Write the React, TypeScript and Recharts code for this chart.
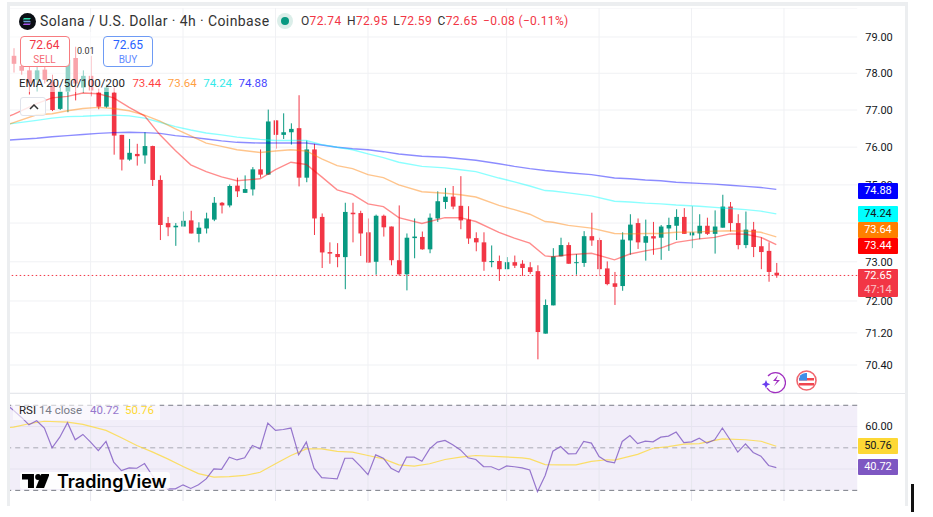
import React from 'react';
import {
  ComposedChart,
  Bar,
  Line,
  XAxis,
  YAxis,
  CartesianGrid,
  ReferenceLine,
  ReferenceArea,
} from 'recharts';

const FONT = 'Roboto, "Noto Sans", sans-serif';
const GREEN = '#089981';
const RED = '#f23645';
const GRID = '#f0f1f4';

const opens = [
  78.48, 78.2, 78.08, 77.82, 78.1, 77.77, 77.03, 77.5, 78.42, 77.61,
  77.93, 77.47, 77.09, 77.47, 76.33, 75.67, 75.82, 75.78, 76.03, 75.13,
  74.0, 73.89, 73.91, 74.07, 73.72, 73.86, 74.09, 74.53, 74.46, 74.98,
  74.79, 74.88, 75.41, 75.27, 76.72, 76.33, 76.4, 76.51, 75.19, 75.94,
  74.16, 73.25, 73.2, 73.12, 74.27, 74.26, 73.76, 73.0, 74.19, 73.91,
  73.04, 72.68, 73.61, 73.64, 73.32, 74.12, 74.55, 74.69, 74.45, 74.09,
  73.61, 73.5, 72.99, 73.02, 72.81, 72.99, 72.95, 72.86, 72.76, 71.18,
  71.89, 73.14, 73.43, 72.97, 72.97, 73.66, 73.56, 72.83, 72.45, 72.38,
  73.55, 74.0, 73.49, 73.66, 73.62, 73.86, 73.93, 74.16, 73.68, 73.73,
  73.93, 73.72, 73.88, 74.43, 74.0, 73.43, 73.83, 73.4, 73.28, 72.72,
];
const highs = [
  78.69, 78.37, 78.2, 78.2, 78.2, 77.96, 77.61, 78.5, 78.73, 78.08,
  78.48, 77.58, 77.69, 77.61, 76.33, 76.22, 76.09, 76.4, 76.04, 75.25,
  74.16, 74.0, 74.3, 74.32, 74.02, 74.27, 74.68, 74.55, 75.01, 75.19,
  75.25, 75.47, 75.94, 77.01, 76.72, 76.91, 76.64, 77.4, 76.18, 76.09,
  74.25, 73.5, 73.48, 74.53, 74.53, 74.32, 74.12, 74.22, 74.22, 73.91,
  74.46, 73.73, 74.12, 73.78, 74.25, 74.83, 74.92, 74.97, 75.23, 74.44,
  73.76, 73.76, 73.42, 73.16, 73.12, 73.16, 73.04, 72.99, 72.91, 72.04,
  73.35, 73.62, 73.5, 73.2, 73.79, 74.27, 73.62, 73.01, 72.74, 73.76,
  74.23, 74.12, 74.09, 74.03, 73.95, 74.14, 74.36, 74.39, 74.44, 74.23,
  74.14, 74.33, 74.74, 74.55, 74.23, 74.3, 74.03, 73.63, 73.5, 72.97,
];
const lows = [
  78.02, 77.96, 77.42, 77.5, 77.72, 76.97, 77.0, 76.94, 77.26, 77.47,
  77.37, 77.02, 77.06, 75.8, 75.38, 75.64, 75.51, 75.56, 74.97, 73.56,
  73.66, 73.41, 73.91, 73.73, 73.5, 73.73, 74.05, 74.25, 74.41, 74.68,
  74.79, 74.72, 75.19, 75.27, 75.96, 76.22, 76.07, 74.96, 75.07, 73.69,
  72.84, 72.95, 72.86, 72.3, 73.5, 73.15, 72.97, 72.67, 73.65, 72.91,
  72.64, 72.27, 73.09, 73.31, 73.22, 74.03, 74.37, 74.36, 73.84, 73.46,
  73.27, 72.77, 72.86, 72.51, 72.81, 72.84, 72.64, 72.69, 70.54, 71.18,
  71.89, 73.14, 72.95, 72.67, 72.87, 73.41, 72.64, 72.4, 71.9, 72.26,
  73.18, 73.33, 73.03, 73.18, 73.05, 73.28, 73.56, 73.72, 73.35, 73.58,
  73.69, 73.21, 73.88, 73.78, 73.32, 73.35, 73.12, 72.81, 72.49, 72.59,
];
const closes = [
  78.26, 78.07, 77.73, 78.08, 77.82, 77.0, 77.5, 78.37, 77.72, 77.93,
  77.53, 77.09, 77.61, 76.31, 75.67, 75.85, 75.76, 76.03, 75.13, 73.95,
  73.89, 73.93, 74.06, 73.73, 73.88, 74.12, 74.53, 74.46, 74.97, 74.83,
  74.89, 75.41, 75.27, 76.69, 76.33, 76.4, 76.49, 75.19, 75.94, 74.12,
  73.24, 73.21, 73.12, 74.29, 74.23, 73.73, 72.98, 74.19, 73.89, 73.04,
  72.68, 73.62, 73.65, 73.32, 74.14, 74.57, 74.69, 74.43, 74.07, 73.6,
  73.5, 73.0, 73.02, 72.81, 72.99, 72.9, 72.84, 72.74, 71.22, 71.9,
  73.14, 73.43, 72.95, 72.99, 73.66, 73.55, 72.81, 72.43, 72.36, 73.57,
  73.96, 73.5, 73.66, 73.6, 73.91, 73.95, 74.16, 73.72, 73.76, 73.93,
  73.72, 73.91, 74.43, 74.0, 73.43, 73.83, 73.38, 73.25, 72.74, 72.65,
];

const emaCandles = [
  -1, 0, 3, 5, 7, 9, 11, 13, 15, 17, 19, 21, 23, 25, 27, 29, 32, 34, 36, 38, 40, 42, 44, 46, 48,
  50, 53, 56, 58, 60, 63, 65, 67, 69, 70, 72, 75, 78, 80, 82, 84, 86, 89, 91, 93, 95, 97, 99,
];
const ema20 = [
  76.8, 76.88, 77.17, 77.33, 77.37, 77.46, 77.44, 77.33, 77.07, 76.84, 76.33, 75.91, 75.53, 75.35, 75.21, 75.11, 75.16,
  75.4, 75.6, 75.54, 75.21, 74.87, 74.75, 74.5, 74.43, 74.14, 73.99, 74.14, 74.14, 74.04, 73.76, 73.61, 73.48,
  73.15, 73.13, 73.18, 73.22, 73.05, 73.2, 73.28, 73.35, 73.5, 73.59, 73.63, 73.72, 73.71, 73.63, 73.44,
];
const ema50 = [
  76.59, 76.66, 76.87, 76.9, 76.98, 77.04, 77.07, 77.04, 76.98, 76.86, 76.7, 76.49, 76.3, 76.11, 76.02, 75.93, 75.86,
  75.9, 75.93, 75.9, 75.69, 75.51, 75.43, 75.27, 75.19, 75.0, 74.82, 74.78, 74.74, 74.68, 74.46, 74.35, 74.23,
  74.04, 74.02, 73.94, 73.87, 73.73, 73.72, 73.73, 73.73, 73.76, 73.77, 73.79, 73.8, 73.79, 73.76, 73.64,
];
const ema100 = [
  76.61, 76.64, 76.72, 76.78, 76.82, 76.83, 76.85, 76.86, 76.84, 76.78, 76.67, 76.55, 76.46, 76.38, 76.33, 76.27, 76.21,
  76.18, 76.18, 76.18, 76.07, 76.0, 75.93, 75.82, 75.72, 75.6, 75.49, 75.45, 75.4, 75.35, 75.18, 75.08, 74.97,
  74.85, 74.84, 74.79, 74.71, 74.57, 74.55, 74.52, 74.5, 74.47, 74.44, 74.41, 74.38, 74.35, 74.31, 74.24,
];
const ema200 = [
  76.18, 76.2, 76.24, 76.28, 76.31, 76.34, 76.37, 76.39, 76.4, 76.39, 76.37, 76.31, 76.27, 76.22, 76.17, 76.13, 76.11,
  76.11, 76.11, 76.11, 76.06, 76.0, 75.96, 75.93, 75.88, 75.82, 75.76, 75.73, 75.69, 75.65, 75.56, 75.49, 75.43,
  75.38, 75.36, 75.32, 75.27, 75.18, 75.16, 75.13, 75.11, 75.07, 75.04, 75.02, 74.99, 74.96, 74.93, 74.88,
];

const rsiBefore = 70.7;
const rsiValues = [
  67.6, 64.4, 60.8, 62.7, 59.3, 50.0, 55.0, 61.8, 53.8, 56.3,
  52.7, 48.7, 53.0, 43.3, 39.3, 40.6, 40.4, 42.6, 37.0, 33.0,
  30.7, 30.7, 32.6, 30.9, 32.6, 35.4, 40.1, 39.9, 45.6, 44.3,
  45.3, 51.1, 49.5, 61.6, 58.2, 58.6, 59.3, 46.7, 52.7, 40.4,
  36.0, 35.7, 35.4, 45.1, 45.1, 41.4, 37.4, 46.7, 45.1, 40.4,
  38.5, 45.6, 45.6, 43.7, 49.5, 52.7, 53.5, 51.4, 49.0, 45.3,
  44.5, 41.2, 41.1, 39.6, 41.5, 41.1, 40.6, 39.6, 29.4, 37.0,
  48.4, 50.6, 47.2, 47.3, 53.0, 52.2, 45.9, 43.6, 42.9, 53.0,
  55.8, 52.0, 53.1, 52.8, 55.0, 55.5, 57.4, 52.5, 52.8, 54.5,
  52.2, 53.8, 59.3, 53.8, 48.0, 51.9, 47.8, 46.1, 41.7, 40.72,
];
const rsiMaCandles = [
  -1, 0, 2, 4, 7, 9, 12, 14, 16, 18, 20, 22, 24, 26, 28, 30, 32, 34, 36, 38, 40, 42, 44, 46, 48, 50, 52, 54, 56, 58,
  60, 63, 66, 67, 69, 71, 73, 75, 77, 78, 81, 83, 85, 87, 89, 91, 92, 95, 97, 99,
];
const rsiMaValues = [
  59.4, 59.7, 61.3, 62.5, 62.1, 61.0, 58.2, 54.7, 51.1, 48.1, 44.8, 41.2, 37.9, 36.2, 36.5, 37.0, 38.5, 42.5, 46.4, 49.5,
  49.5, 48.3, 48.0, 46.4, 44.8, 42.0, 41.4, 42.5, 44.5, 45.6, 46.4, 45.9, 45.3, 44.8, 42.1, 42.0, 42.0, 43.6, 44.4,
  44.2, 46.9, 49.8, 50.6, 51.7, 52.0, 53.5, 54.2, 53.8, 53.1, 50.76,
];

const priceTicks = [79, 78, 77, 76, 75, 74, 73, 72, 71.2, 70.4];
const rsiTicks = [60];
const timeGridCandles = [10, 22, 34, 46, 64, 76, 88, 100];
const EMPTY_SLOTS = 10;

const rows = Array.from({ length: opens.length + EMPTY_SLOTS + 1 }, (_, n) => {
  const i = n - 1;
  const row: Record<string, number> = { i };
  if (i === -1) row.rsi = rsiBefore;
  if (i >= 0 && i < opens.length) {
    row.open = opens[i];
    row.high = highs[i];
    row.low = lows[i];
    row.close = closes[i];
    row.rsi = rsiValues[i];
  }
  const e = emaCandles.indexOf(i);
  if (e >= 0) {
    row.ema20 = ema20[e];
    row.ema50 = ema50[e];
    row.ema100 = ema100[e];
    row.ema200 = ema200[e];
  }
  const m = rsiMaCandles.indexOf(i);
  if (m >= 0) row.rsiMa = rsiMaValues[m];
  return row;
});

// y and height of the bar come from the axis scale for high..low; open and close sit on the same log scale
const Candle = (props: any) => {
  const { x, y, width, height, payload } = props;
  if (payload.open === undefined) return null;
  const { open, high, low, close } = payload;
  const at = (v: number) => y + (height * Math.log(high / v)) / Math.log(high / low);
  const color = close >= open ? GREEN : RED;
  const top = at(Math.max(open, close));
  const bottom = at(Math.min(open, close));
  const mid = x + width / 2;
  return (
    <g>
      <line x1={mid} x2={mid} y1={y} y2={y + height} stroke={color} strokeWidth={1} />
      <rect x={x} y={top} width={width} height={Math.max(bottom - top, 1)} fill={color} />
    </g>
  );
};

const abs = (left: number, top: number, width: number, height: number): React.CSSProperties => ({
  position: 'absolute',
  left,
  top,
  width,
  height,
});

const Tag = ({ top, height = 16, bg, color = '#fff', text }: any) => (
  <div
    style={{
      ...abs(858, top, 40, height),
      background: bg,
      color,
      fontSize: 11,
      lineHeight: `${height}px`,
      textAlign: 'center',
      borderRadius: 1,
    }}
  >
    {text}
  </div>
);

const Quote = ({ k, v }: { k: string; v: string }) => (
  <span style={{ marginRight: 5.5 }}>
    {k}
    <span style={{ color: RED }}>{v}</span>
  </span>
);

// the first band sits off the left edge and is clipped by the pane, so the lines run up to the edge
const BAND = 7.705;

export default function App() {
  return (
    <div style={{ ...abs(0, 0, 933, 517), background: '#fff', overflow: 'hidden', fontFamily: FONT, color: '#131722' }}>
      {/* frame of the screenshot */}
      <div style={{ ...abs(7, 2, 901, 4), background: '#eceef0' }} />
      <div style={{ ...abs(7, 2, 3, 504), background: '#eceef0' }} />
      <div style={{ ...abs(905, 2, 3, 504), background: '#eceef0' }} />
      <div style={{ ...abs(911, 484, 3, 28), background: '#111' }} />

      {/* price pane */}
      <div style={{ ...abs(10, 8, 896, 385), overflow: 'hidden' }}>
        <div style={abs(-BAND, 0, 896 + BAND, 385)}>
          <ComposedChart width={895.5 + BAND} height={385} data={rows} margin={{ top: 0, right: 0, bottom: 0, left: 0 }} barCategoryGap={0}>
            <CartesianGrid vertical={false} stroke={GRID} />
            <XAxis dataKey="i" type="category" scale="band" hide />
            <YAxis
              orientation="right"
              width={48}
              scale="log"
              domain={[69.71, 79.81]}
              allowDataOverflow
              ticks={priceTicks}
              interval={0}
              tickFormatter={(v: number) => (v === 74 ? '' : v.toFixed(2))}
              axisLine={false}
              tickLine={false}
              tickSize={0}
              tickMargin={8}
              tick={{ fontSize: 11, fill: '#131722', fontFamily: FONT }}
            />
            {timeGridCandles.map((c) => (
              <ReferenceLine key={c} x={c} stroke={GRID} />
            ))}
            <Line dataKey="ema200" stroke="#0000ff" strokeOpacity={0.45} strokeWidth={1.4} dot={false} connectNulls isAnimationActive={false} />
            <Line dataKey="ema100" stroke="#00ffff" strokeOpacity={0.45} strokeWidth={1.4} dot={false} connectNulls isAnimationActive={false} />
            <Line dataKey="ema50" stroke="#ff7f00" strokeOpacity={0.45} strokeWidth={1.4} dot={false} connectNulls isAnimationActive={false} />
            <Line dataKey="ema20" stroke="#ff0000" strokeOpacity={0.45} strokeWidth={1.4} dot={false} connectNulls isAnimationActive={false} />
            <Bar
              dataKey={(d: any) => (d.open === undefined ? undefined : [d.low, d.high])}
              barSize={4.6}
              shape={<Candle />}
              isAnimationActive={false}
            />
            <ReferenceLine y={72.65} stroke={RED} strokeDasharray="1.5 2.5" />
          </ComposedChart>
        </div>
      </div>
      <div style={{ ...abs(10, 393, 895, 1), background: '#e6e8ec' }} />

      {/* RSI pane */}
      <div style={{ ...abs(10, 394, 896, 107), overflow: 'hidden' }}>
        <div style={abs(-BAND, 0, 896 + BAND, 107)}>
          <ComposedChart width={895.5 + BAND} height={107} data={rows} margin={{ top: 0, right: 0, bottom: 0, left: 0 }}>
            <XAxis dataKey="i" type="category" scale="band" hide />
            <YAxis
              orientation="right"
              width={48}
              domain={[25, 75.3]}
              allowDataOverflow
              ticks={rsiTicks}
              tickFormatter={(v: number) => v.toFixed(2)}
              axisLine={false}
              tickLine={false}
              tickSize={0}
              tickMargin={8}
              tick={{ fontSize: 11, fill: '#131722', fontFamily: FONT }}
            />
            <ReferenceArea y1={30} y2={70} fill="#7e57c2" fillOpacity={0.1} stroke="none" />
            {timeGridCandles.map((c) => (
              <ReferenceLine key={c} x={c} stroke="#e6e6ee" />
            ))}
            <ReferenceLine y={60} stroke="#e6e3f0" />
            <ReferenceLine y={40} stroke="#e6e3f0" />
            <ReferenceLine y={70} stroke="#787b86" strokeDasharray="5 4" />
            <ReferenceLine y={50} stroke="#787b86" strokeOpacity={0.6} strokeDasharray="5 4" />
            <ReferenceLine y={30} stroke="#787b86" strokeDasharray="5 4" />
            <Line dataKey="rsiMa" stroke="#fdd835" strokeOpacity={0.75} strokeWidth={1.2} dot={false} connectNulls isAnimationActive={false} />
            <Line dataKey="rsi" stroke="#7e57c2" strokeOpacity={0.8} strokeWidth={1.2} dot={false} connectNulls isAnimationActive={false} />
          </ComposedChart>
        </div>
      </div>

      {/* legend veils */}
      <div style={{ ...abs(10, 32, 125, 60), background: 'rgba(255,255,255,0.55)' }} />
      <div style={{ ...abs(13, 404, 147, 16), background: 'rgba(255,255,255,0.6)' }} />

      {/* header */}
      <svg style={abs(19, 13, 17, 17)} viewBox="0 0 17 17">
        <circle cx={8.5} cy={8.5} r={8.5} fill="#0b0e14" />
        <path d="M5 5h7l-1.3 1.5H3.8z" fill="#33e0b0" />
        <path d="M3.8 7.8h7l1.3 1.4H5z" fill="#6aa0d8" />
        <path d="M5 10.6h7l-1.3 1.5H3.8z" fill="#a855e8" />
      </svg>
      <div style={{ position: 'absolute', left: 40, top: 13, fontSize: 14, letterSpacing: 0.4, lineHeight: '17px', whiteSpace: 'nowrap', color: '#333' }}>
        Solana / U.S. Dollar · 4h · Coinbase
      </div>
      <div style={{ ...abs(277, 13, 16, 16), borderRadius: 8, background: '#dbeee9' }} />
      <div style={{ ...abs(281, 17, 8, 8), borderRadius: 4, background: GREEN }} />
      <div style={{ position: 'absolute', left: 301, top: 13, fontSize: 12, letterSpacing: 0.35, lineHeight: '17px', whiteSpace: 'nowrap', color: '#333' }}>
        <Quote k="O" v="72.74" />
        <Quote k="H" v="72.95" />
        <Quote k="L" v="72.59" />
        <Quote k="C" v="72.65" />
        <span style={{ color: RED }}>−0.08 (−0.11%)</span>
      </div>

      {/* sell / buy */}
      <div
        style={{
          ...abs(19.5, 36, 50, 31),
          boxSizing: 'border-box',
          border: '1px solid #f77c80',
          borderRadius: 4,
          background: '#fff',
          color: RED,
          textAlign: 'center',
        }}
      >
        <div style={{ fontSize: 12, lineHeight: '15px', marginTop: 1 }}>72.64</div>
        <div style={{ fontSize: 10, lineHeight: '13px', opacity: 0.75 }}>SELL</div>
      </div>
      <div style={{ position: 'absolute', left: 77, top: 45, fontSize: 9, lineHeight: '12px', color: '#333' }}>0.01</div>
      <div
        style={{
          ...abs(103, 36, 50, 31),
          boxSizing: 'border-box',
          border: '1px solid #6e9bf5',
          borderRadius: 4,
          background: '#fff',
          color: '#2962ff',
          textAlign: 'center',
        }}
      >
        <div style={{ fontSize: 12, lineHeight: '15px', marginTop: 1 }}>72.65</div>
        <div style={{ fontSize: 10, lineHeight: '13px', opacity: 0.75 }}>BUY</div>
      </div>

      {/* EMA legend */}
      <div style={{ position: 'absolute', left: 19, top: 76, fontSize: 11.5, lineHeight: '14px', whiteSpace: 'nowrap', color: '#222' }}>
        EMA 20/50/100/200
        <span style={{ color: '#ff0000', opacity: 0.75, marginLeft: 7.5 }}>73.44</span>
        <span style={{ color: '#ff7f00', opacity: 0.75, marginLeft: 6.5 }}>73.64</span>
        <span style={{ color: '#00e5e5', opacity: 0.8, marginLeft: 6.5 }}>74.24</span>
        <span style={{ color: '#0000ff', opacity: 0.75, marginLeft: 6.5 }}>74.88</span>
      </div>
      <div
        style={{
          ...abs(19.5, 96.5, 26, 19),
          boxSizing: 'border-box',
          border: '1px solid #e0e3eb',
          borderRadius: 3,
          background: 'rgba(255,255,255,0.8)',
        }}
      >
        <svg style={abs(8, 6, 10, 6)} viewBox="0 0 10 6">
          <path d="M1 5l4-4 4 4" fill="none" stroke="#333" strokeWidth={1.5} />
        </svg>
      </div>

      {/* RSI legend */}
      <div style={{ position: 'absolute', left: 19, top: 403, fontSize: 11.5, lineHeight: '14px', whiteSpace: 'nowrap', color: '#222' }}>
        RSI <span style={{ color: '#787b86' }}>14 close</span>
        <span style={{ color: '#7e57c2', opacity: 0.8, marginLeft: 8 }}>40.72</span>
        <span style={{ color: '#fdd835', marginLeft: 6 }}>50.76</span>
      </div>

      {/* axis tags */}
      <Tag top={182.5} bg="#0000ff" text="74.88" />
      <Tag top={206} bg="#00ffff" color="#131722" text="74.24" />
      <Tag top={222} bg="#ff7f00" text="73.64" />
      <Tag top={238} bg="#ff0000" text="73.44" />
      <div
        style={{
          ...abs(858, 269, 40, 28),
          background: RED,
          color: '#fff',
          fontSize: 11,
          lineHeight: '14px',
          textAlign: 'center',
          borderRadius: 1,
        }}
      >
        72.65
        <div style={{ opacity: 0.7 }}>47:14</div>
      </div>
      <Tag top={438} bg="#fdd835" color="#131722" text="50.76" />
      <Tag top={459} bg="#7e57c2" text="40.72" />

      {/* event icons */}
      <svg style={abs(760, 370, 26, 24)} viewBox="0 0 26 24">
        <path d="M8 6a10 10 0 1 1-1 12" fill="none" stroke="#a02fc0" strokeWidth={1.3} />
        <path d="M18 5l-5 6h4l-3 5 6-6h-4z" fill="#a02fc0" />
        <path d="M6 10l1.3 3 3 1.3-3 1.3-1.3 3-1.3-3-3-1.3 3-1.3z" fill="#6a3df0" />
      </svg>
      <svg style={abs(796, 370, 21, 21)} viewBox="0 0 21 21">
        <circle cx={10.5} cy={10.5} r={9.5} fill="#fff" stroke="#f0666e" strokeWidth={1.6} />
        <path d="M3 8h15v2.5H3zM3 13h15v2.5H3z" fill="#f04650" />
        <path d="M4 5.5A8 8 0 0 1 11 3v7.5H3z" fill="#3f8ee8" />
      </svg>

      {/* watermark */}
      <div style={{ ...abs(20, 472, 150, 17), background: 'rgba(255,255,255,0.85)', borderRadius: 3 }} />
      <svg style={abs(21.7, 474, 27.6, 14)} viewBox="0 0 30 15">
        <path d="M0 0h13v15H6.5V6H0z" fill="#000" />
        <circle cx={17.5} cy={3.2} r={3.2} fill="#000" />
        <path d="M21 0h9l-6 15h-9z" fill="#000" />
      </svg>
      <div
        style={{
          position: 'absolute',
          left: 57,
          top: 469.5,
          fontFamily: 'Inter, Roboto, sans-serif',
          fontWeight: 600,
          fontSize: 18,
          lineHeight: '24px',
          color: '#000',
          whiteSpace: 'nowrap',
        }}
      >
        TradingView
      </div>
    </div>
  );
}
